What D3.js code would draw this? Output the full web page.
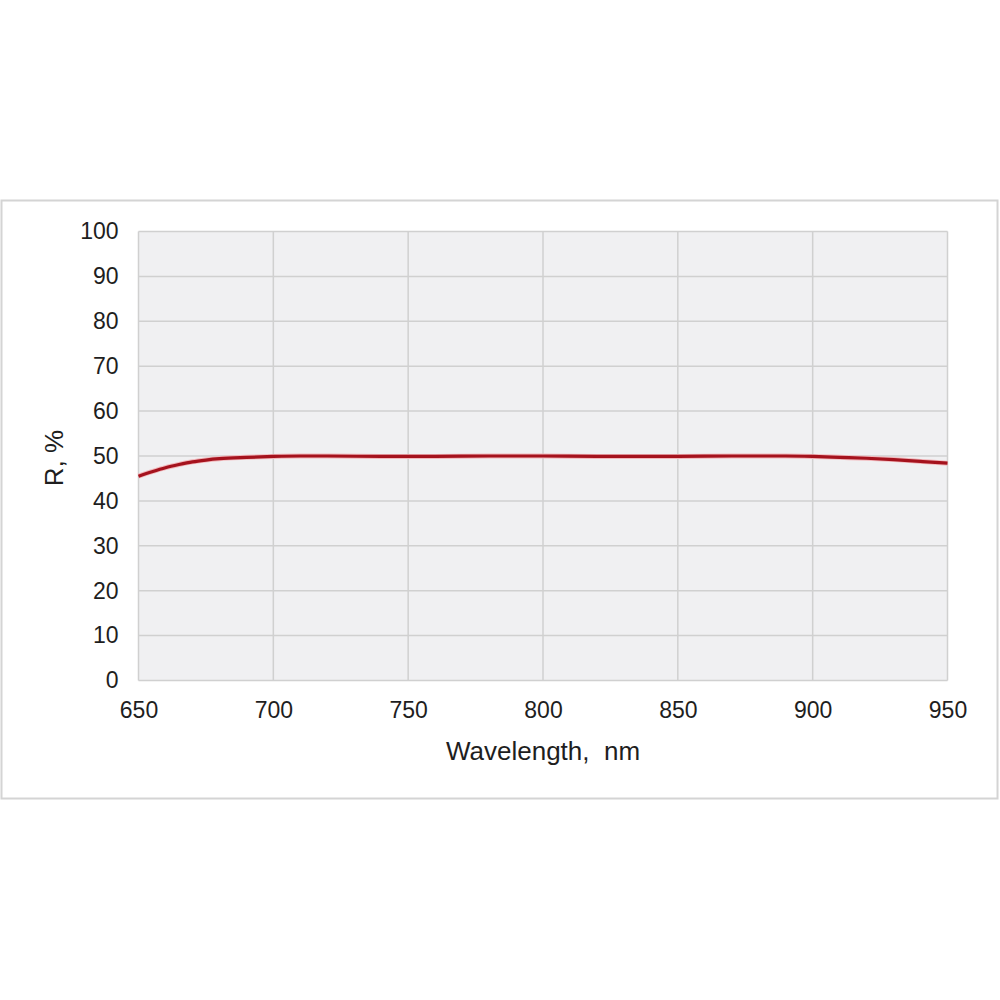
<!DOCTYPE html>
<html>
<head>
<meta charset="utf-8">
<script src="https://cdn.jsdelivr.net/npm/d3@7"></script>
<style>
  body { margin: 0; background: #fff; }
  svg { display: block; }
  .tick text { font-family: "Liberation Sans", Arial, sans-serif; font-size: 23px; fill: #1e1e1e; }
  .label { font-family: "Liberation Sans", Arial, sans-serif; font-size: 26px; fill: #1e1e1e; }
</style>
</head>
<body>
<svg width="1000" height="1000"></svg>
<script>
// reflectance curve
var wavelength = [650, 655, 660, 665, 670, 675, 680, 690, 700, 710, 720, 740, 760, 780, 800, 820, 850, 870, 890, 900, 910, 920, 930, 940, 950];
var reflectance = [45.5, 46.5, 47.4, 48.1, 48.7, 49.1, 49.4, 49.7, 49.9, 50.0, 50.0, 49.9, 49.9, 50.0, 50.0, 49.9, 49.9, 50.0, 50.0, 49.9, 49.7, 49.5, 49.2, 48.8, 48.4];
var xTicks = [650, 700, 750, 800, 850, 900, 950];
var yTicks = [0, 10, 20, 30, 40, 50, 60, 70, 80, 90, 100];

var svg = d3.select('svg');

// outer frame
svg.append('rect')
    .attr('x', 1.5).attr('y', 200.5)
    .attr('width', 996).attr('height', 598)
    .attr('fill', '#fff')
    .attr('stroke', '#d4d4d4')
    .attr('stroke-width', 2);

var x = d3.scaleLinear().domain([650, 950]).range([138.5, 947.5]);
var y = d3.scaleLinear().domain([0, 100]).range([680.5, 231.5]);

// plot background
svg.append('rect')
    .attr('x', x(650)).attr('y', y(100))
    .attr('width', x(950) - x(650)).attr('height', y(0) - y(100))
    .attr('fill', '#f0f0f2');

// grid
svg.append('g').selectAll('line').data(xTicks).enter().append('line')
    .attr('x1', d => x(d)).attr('x2', d => x(d))
    .attr('y1', y(0)).attr('y2', y(100))
    .attr('stroke', '#d0d0d0').attr('stroke-width', 1.5);
svg.append('g').selectAll('line').data(yTicks).enter().append('line')
    .attr('x1', x(650)).attr('x2', x(950))
    .attr('y1', d => y(d)).attr('y2', d => y(d))
    .attr('stroke', '#d0d0d0').attr('stroke-width', 1.5);

// axes (labels only)
var xAxis = svg.append('g')
    .attr('transform', 'translate(0,' + y(0) + ')')
    .call(d3.axisBottom(x).tickValues(xTicks).tickSize(0).tickPadding(21));
xAxis.select('.domain').remove();

var yAxis = svg.append('g')
    .attr('transform', 'translate(' + x(650) + ',0)')
    .call(d3.axisLeft(y).tickValues(yTicks).tickSize(0).tickPadding(20));
yAxis.select('.domain').remove();

// curve
var line = d3.line()
    .x((d, i) => x(wavelength[i]))
    .y(d => y(d))
    .curve(d3.curveMonotoneX);

svg.append('path')
    .datum(reflectance)
    .attr('d', line)
    .attr('fill', 'none')
    .attr('stroke', '#f2b8bc')
    .attr('stroke-width', 5);

svg.append('path')
    .datum(reflectance)
    .attr('d', line)
    .attr('fill', 'none')
    .attr('stroke', '#a5121d')
    .attr('stroke-width', 3.2);

// axis titles
svg.append('text')
    .attr('class', 'label')
    .attr('x', 543).attr('y', 760)
    .attr('text-anchor', 'middle')
    .attr('xml:space', 'preserve')
    .text('Wavelength,  nm');

svg.append('text')
    .attr('class', 'label')
    .attr('transform', 'translate(63,458) rotate(-90)')
    .attr('text-anchor', 'middle')
    .text('R, %');
</script>
</body>
</html>
